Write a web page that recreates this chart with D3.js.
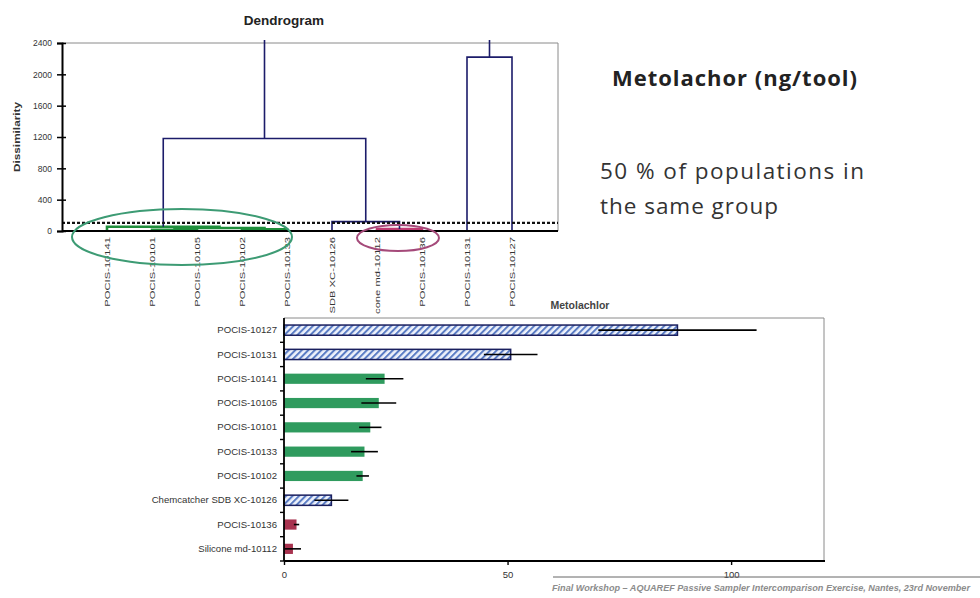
<!DOCTYPE html>
<html>
<head>
<meta charset="utf-8">
<script src="https://cdn.jsdelivr.net/npm/d3@7"></script>
<style>
  body { margin: 0; background: #fff; }
  svg { display: block; }
</style>
</head>
<body>
<svg id="chart" width="980" height="598"></svg>
<script>
// ---- Dendrogram data ----
const leafLabels = ["POCIS-10141", "POCIS-10101", "POCIS-10105", "POCIS-10102", "POCIS-10133",
  "Chemcatcher SDB XC-10126", "Silicone md-10112", "POCIS-10136", "POCIS-10131", "POCIS-10127"];
// merges as [left, right, height]; indices >= 10 refer to earlier merges
const linkage = [
  [1, 2, 15], [3, 4, 22], [10, 11, 38], [0, 12, 55],
  [6, 7, 25], [5, 14, 120], [13, 15, 1180], [8, 9, 2220], [16, 17, 2700]
];
const cutHeight = 105;
const dendroTicks = [0, 400, 800, 1200, 1600, 2000, 2400];

// ---- Bar chart data ----
const samples = ["POCIS-10127", "POCIS-10131", "POCIS-10141", "POCIS-10105", "POCIS-10101",
  "POCIS-10133", "POCIS-10102", "Chemcatcher SDB XC-10126", "POCIS-10136", "Silicone md-10112"];
const means  = [88, 50.7, 22.5, 21.2, 19.3, 18.0, 17.6, 10.6, 2.8, 2.0];
const errors = [17.7, 6.0, 4.2, 3.9, 2.5, 3.0, 1.4, 3.8, 0.6, 1.8];
const groups = ["other", "other", "pocis", "pocis", "pocis", "pocis", "pocis", "other", "low", "low"];
const barTicks = [0, 50, 100];

const svg = d3.select("#chart");
const FONT = "'Liberation Sans', Arial, sans-serif";
const NAVY = "#1c1c6a";
const clusterPalette = ["#1f8f3c", "#c03a72"];

// ================= Dendrogram =================
const dL = 62, dR = 558, dT = 43, dB = 231;
const xLeaf = d3.scalePoint().domain(d3.range(leafLabels.length)).range([107, 512]);
const yD = d3.scaleLinear().domain([0, 2400]).range([dB, dT]);

// build node list
const nodes = leafLabels.map((name, i) => ({ id: i, x: xLeaf(i), h: 0, leaf: true }));
linkage.forEach(([a, b, h]) => {
  const na = nodes[a], nb = nodes[b];
  nodes.push({ id: nodes.length, x: (na.x + nb.x) / 2, h, a: na, b: nb });
});
const root = nodes[nodes.length - 1];

// assign cluster colours to sub-trees that merge below the cut
let colorIdx = 0;
(function paint(n, col) {
  if (n.leaf) return;
  let c = col;
  if (!c && n.h < cutHeight) c = clusterPalette[colorIdx++];
  n.color = c;
  paint(n.a, c); paint(n.b, c);
})(root, null);

const defs = svg.append("defs");
defs.append("clipPath").attr("id", "dclip")
  .append("rect").attr("x", dL).attr("y", dT - 3).attr("width", dR - dL).attr("height", dB - dT + 3);
defs.append("clipPath").attr("id", "lclip")
  .append("rect").attr("x", 0).attr("y", 232).attr("width", 980).attr("height", 82);

// frame
svg.append("line").attr("x1", dL).attr("x2", dR).attr("y1", dT).attr("y2", dT)
  .attr("stroke", "#8a8a8a").attr("stroke-width", 1);
svg.append("line").attr("x1", dR).attr("x2", dR).attr("y1", dT).attr("y2", dB)
  .attr("stroke", "#8a8a8a").attr("stroke-width", 1);

// links
const linkG = svg.append("g").attr("clip-path", "url(#dclip)");
nodes.filter(n => !n.leaf).forEach(n => {
  const col = n.color || NAVY;
  linkG.append("path")
    .attr("d", `M${n.a.x},${yD(n.a.h)}V${yD(n.h)}H${n.b.x}V${yD(n.b.h)}`)
    .attr("fill", "none").attr("stroke", col)
    .attr("stroke-width", n.color ? 2.6 : 1.6);
});

// cut line
svg.append("line").attr("x1", dL).attr("x2", dR)
  .attr("y1", yD(cutHeight)).attr("y2", yD(cutHeight))
  .attr("stroke", "#111").attr("stroke-width", 2.2).attr("stroke-dasharray", "3,2");

// axes
const yAxisD = svg.append("g").attr("transform", `translate(${dL},0)`)
  .call(d3.axisLeft(yD).tickValues(dendroTicks).tickFormat(d3.format("d")).tickSize(5).tickPadding(5));
yAxisD.select(".domain").attr("stroke", "#000").attr("stroke-width", 2);
yAxisD.selectAll(".tick line").attr("stroke", "#000").attr("stroke-width", 1.5).attr("x2", -5).attr("x1", 4);
yAxisD.selectAll(".tick text").attr("font-family", FONT).attr("font-size", 8.5).attr("fill", "#333");
svg.append("line").attr("x1", dL).attr("x2", dR).attr("y1", dB).attr("y2", dB)
  .attr("stroke", "#000").attr("stroke-width", 1.8);

svg.append("text")
  .attr("transform", `translate(20,${(dT + dB) / 2}) rotate(-90)`)
  .attr("text-anchor", "middle").attr("font-family", FONT).attr("font-weight", "bold")
  .attr("font-size", 9).attr("fill", "#333")
  .attr("textLength", 70).attr("lengthAdjust", "spacingAndGlyphs")
  .text("Dissimilarity");

svg.append("text").attr("x", 284).attr("y", 25).attr("text-anchor", "middle")
  .attr("font-family", FONT).attr("font-weight", "bold").attr("font-size", 13.5).attr("fill", "#222")
  .text("Dendrogram");

// leaf labels
svg.append("g").attr("clip-path", "url(#lclip)").selectAll("text")
  .data(leafLabels).join("text")
  .attr("transform", (d, i) => `translate(${xLeaf(i) + 3},237) rotate(-90) scale(1,0.72)`)
  .attr("text-anchor", "end").attr("font-family", FONT).attr("font-size", 11.2).attr("fill", "#333")
  .text(d => d);

// cluster ellipses
svg.append("ellipse").attr("cx", 182).attr("cy", 237).attr("rx", 110).attr("ry", 28)
  .attr("fill", "none").attr("stroke", "#3d9b74").attr("stroke-width", 2);
svg.append("ellipse").attr("cx", 398).attr("cy", 238).attr("rx", 41).attr("ry", 13)
  .attr("fill", "none").attr("stroke", "#a54a7a").attr("stroke-width", 2);

// ================= Text panel =================
const PANEL_FONT = "'Open Sans', sans-serif";
svg.append("text").attr("x", 612).attr("y", 86)
  .attr("font-family", PANEL_FONT).attr("font-weight", "bold").attr("font-size", 22)
  .attr("textLength", 245).attr("lengthAdjust", "spacing")
  .attr("fill", "#222").text("Metolachor (ng/tool)");
svg.append("text").attr("x", 600).attr("y", 179)
  .attr("font-family", PANEL_FONT).attr("font-size", 22.5).attr("fill", "#333")
  .attr("textLength", 264).attr("lengthAdjust", "spacing")
  .text("50 % of populations in");
svg.append("text").attr("x", 600).attr("y", 214)
  .attr("font-family", PANEL_FONT).attr("font-size", 22.5).attr("fill", "#333")
  .attr("textLength", 178).attr("lengthAdjust", "spacing")
  .text("the same group");

// ================= Bar chart =================
const bL = 284, bR = 825, bT = 318, bB = 561;
const xB = d3.scaleLinear().domain([0, 121]).range([bL, bR]);
const yB = d3.scaleBand().domain(samples).range([bT, bB]).paddingInner(0.58).paddingOuter(0.29);
const groupFill = { pocis: "#2f9b5e", low: "#a8334f", other: "url(#hatch)" };

const pat = defs.append("pattern").attr("id", "hatch")
  .attr("patternUnits", "userSpaceOnUse").attr("width", 4.6).attr("height", 4.6)
  .attr("patternTransform", "rotate(45)");
pat.append("rect").attr("width", 4.6).attr("height", 4.6).attr("fill", "#eef2fb");
pat.append("rect").attr("x", 0).attr("width", 2).attr("height", 4.6).attr("fill", "#5a7cc4");

svg.append("text").attr("x", 580).attr("y", 309).attr("text-anchor", "middle")
  .attr("font-family", FONT).attr("font-weight", "bold").attr("font-size", 10.5).attr("fill", "#444")
  .text("Metolachlor");

// frame
svg.append("line").attr("x1", bL).attr("x2", bR - 1).attr("y1", bT).attr("y2", bT)
  .attr("stroke", "#8a8a8a").attr("stroke-width", 1);
svg.append("line").attr("x1", bR - 1).attr("x2", bR - 1).attr("y1", bT).attr("y2", bB)
  .attr("stroke", "#8a8a8a").attr("stroke-width", 1);

// bars
const rows = samples.map((s, i) => ({ s, m: means[i], e: errors[i], g: groups[i] }));
svg.append("g").selectAll("rect").data(rows).join("rect")
  .attr("x", bL).attr("y", d => yB(d.s))
  .attr("width", d => xB(d.m) - bL).attr("height", yB.bandwidth())
  .attr("fill", d => groupFill[d.g])
  .attr("stroke", d => d.g === "other" ? "#1a1f5e" : "none")
  .attr("stroke-width", 1.5);

// error bars
svg.append("g").selectAll("line").data(rows).join("line")
  .attr("x1", d => xB(d.m - d.e)).attr("x2", d => xB(d.m + d.e))
  .attr("y1", d => yB(d.s) + yB.bandwidth() / 2).attr("y2", d => yB(d.s) + yB.bandwidth() / 2)
  .attr("stroke", "#000").attr("stroke-width", 1.6);

// y axis with ticks at band boundaries
const step = yB.step();
const yAxisB = svg.append("g").attr("transform", `translate(${bL},0)`)
  .call(d3.axisLeft(yB).tickSize(0).tickPadding(7));
yAxisB.select(".domain").remove();
yAxisB.selectAll(".tick text").attr("font-family", FONT).attr("font-size", 9.6).attr("fill", "#333");
const bounds = d3.range(samples.length + 1).map(i => yB(samples[0]) + yB.bandwidth() / 2 - step / 2 + i * step);
svg.append("g").selectAll("line").data(bounds.slice(1)).join("line")
  .attr("x1", bL - 4).attr("x2", bL).attr("y1", d => d).attr("y2", d => d)
  .attr("stroke", "#000").attr("stroke-width", 1.4);
svg.append("line").attr("x1", bL).attr("x2", bL).attr("y1", bT).attr("y2", bB)
  .attr("stroke", "#000").attr("stroke-width", 1.8);

// x axis
const xAxisB = svg.append("g").attr("transform", `translate(0,${bB})`)
  .call(d3.axisBottom(xB).tickValues(barTicks).tickSize(4).tickPadding(6));
xAxisB.select(".domain").remove();
xAxisB.selectAll(".tick line").attr("stroke", "#000").attr("stroke-width", 1.4);
xAxisB.selectAll(".tick text").attr("font-family", FONT).attr("font-size", 9.5).attr("fill", "#333");
svg.append("line").attr("x1", bL).attr("x2", bR).attr("y1", bB).attr("y2", bB)
  .attr("stroke", "#000").attr("stroke-width", 1.8);

// ================= Footer =================
svg.append("line").attr("x1", 553).attr("x2", 980).attr("y1", 577).attr("y2", 577)
  .attr("stroke", "#666").attr("stroke-width", 1);
svg.append("text").attr("x", 552).attr("y", 591)
  .attr("font-family", FONT).attr("font-style", "italic").attr("font-weight", "bold")
  .attr("font-size", 9.1).attr("fill", "#8c8c8c")
  .text("Final Workshop – AQUAREF Passive Sampler Intercomparison Exercise, Nantes, 23rd November");
</script>
</body>
</html>
